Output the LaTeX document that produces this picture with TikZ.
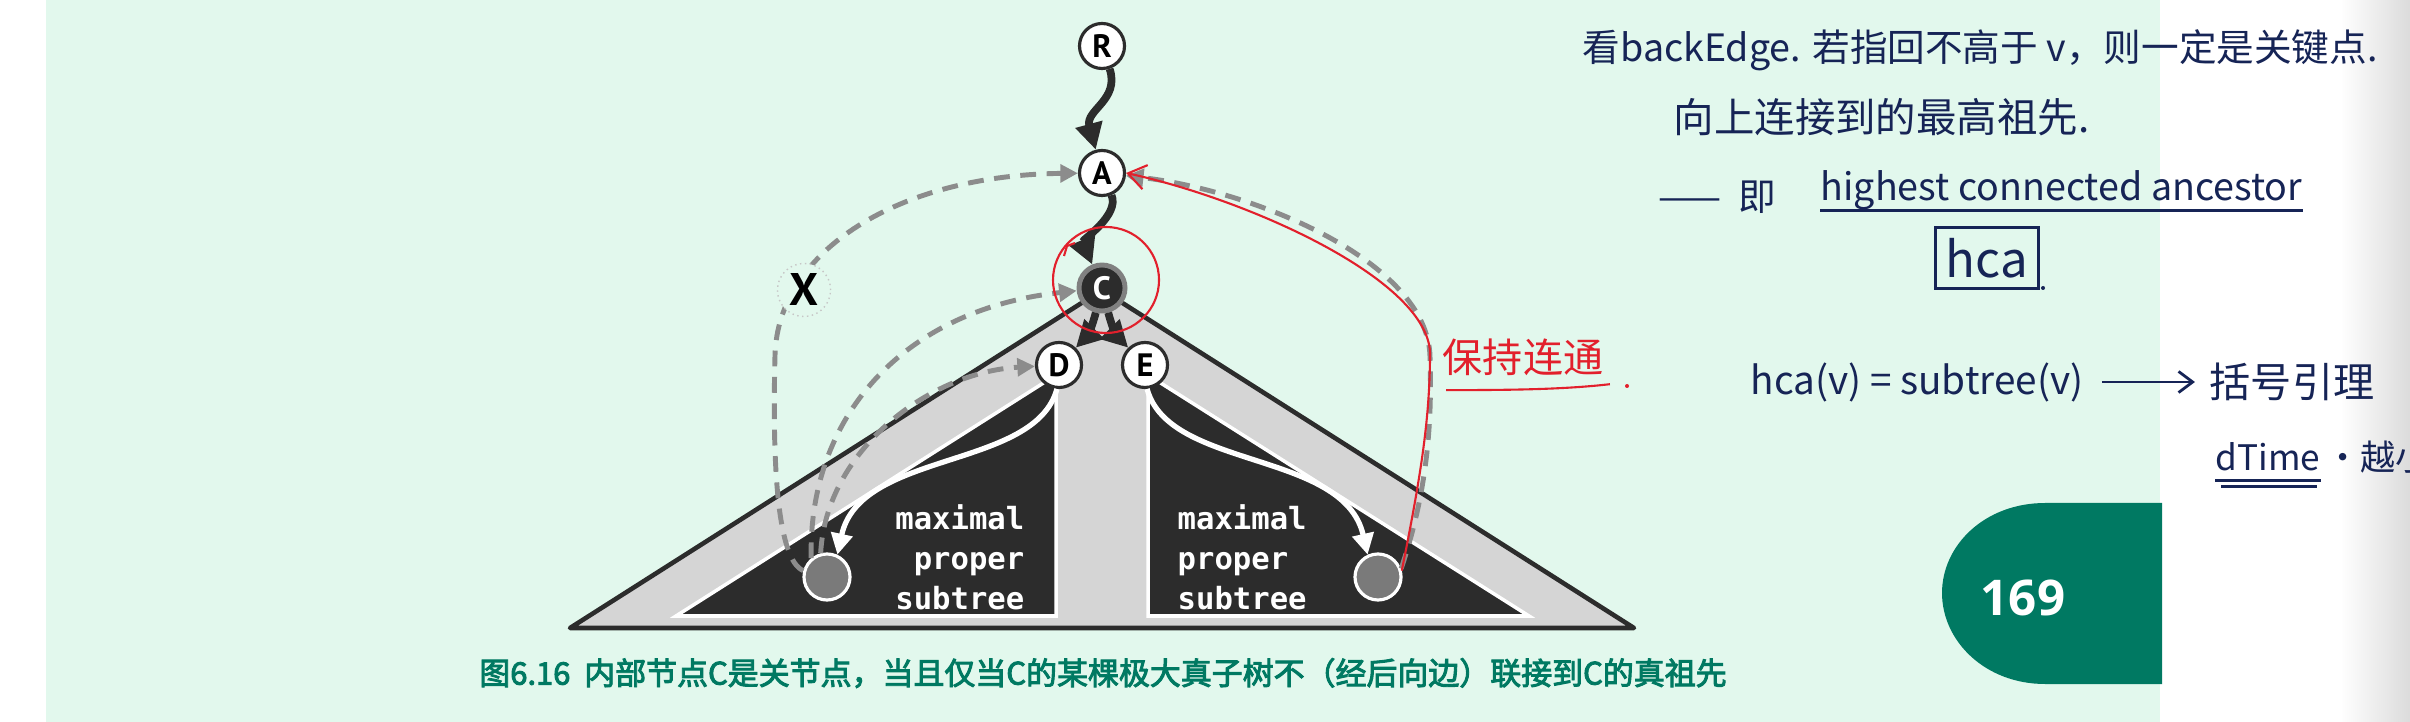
\documentclass[tikz,border=0pt]{standalone}
\usepackage{fontspec}
\usepackage{tikz}
\usetikzlibrary{arrows.meta}
\usetikzlibrary{calc}
\usetikzlibrary{positioning}

\newfontfamily\cjkfont{Noto Sans CJK SC}
\newfontfamily\capfont{Noto Sans CJK SC}[FakeBold=3]
\newfontfamily\letterfont{PT Sans}
\newfontfamily\codefont{DejaVu Sans Mono}
\newfontfamily\numfont{Open Sans}

\definecolor{pagebg}{RGB}{226,248,237}
\definecolor{tabgreen}{RGB}{0,121,98}
\definecolor{inkblue}{RGB}{22,36,86}
\definecolor{inkred}{RGB}{226,32,44}
\definecolor{treedark}{RGB}{44,44,44}
\definecolor{treelight}{RGB}{213,213,213}
\definecolor{leafgray}{RGB}{122,122,122}
\definecolor{dashgray}{RGB}{140,140,140}

\begin{document}
\begin{tikzpicture}[x=0.01cm,y=-0.01cm,
  treenode/.style={circle,draw=treedark,line width=0.9pt,fill=white,minimum size=0.45cm,inner sep=0pt,font=\letterfont\bfseries\fontsize{9.2}{9}\selectfont},
  cutnode/.style={circle,draw=gray,line width=1.4pt,fill=treedark,text=white,minimum size=0.46cm,inner sep=0pt,font=\letterfont\bfseries\fontsize{9.2}{9}\selectfont},
  leaf/.style={circle,draw=white,line width=0.9pt,fill=leafgray,minimum size=0.46cm,inner sep=0pt},
  treeedge/.style={draw=treedark,line width=2.2pt,-{Triangle[length=7.5pt,width=7.5pt]}},
  whiteedge/.style={draw=white,line width=1.5pt,-{Triangle[length=6pt,width=6pt]}},
  backedge/.style={draw=dashgray,line width=1.4pt,dash pattern=on 4.5pt off 3pt,-{Triangle[length=5pt,width=5pt]}},
  redpen/.style={draw=inkred,line width=0.6pt},
  inkpen/.style={draw=inkblue,line width=0.8pt},
  note/.style={text=inkblue,font=\cjkfont\fontsize{10.7}{12}\selectfont,inner sep=0pt},
  subtree/.style={text=white,font=\codefont\bfseries\fontsize{8.7}{11.4}\selectfont,inner sep=0pt}]

\useasboundingbox (0,0) rectangle (2410,722);
\fill[white] (0,0) rectangle (2410,722);
\fill[pagebg] (46,0) rectangle (2160,722);
\shade[left color=white,right color=black!14] (2340,0) rectangle (2410,722);

\filldraw[fill=treelight,draw=treedark,line width=1.3pt,line join=round] (1102,290) -- (570,628) -- (1634,628) -- cycle;
\filldraw[fill=treedark,draw=white,line width=1pt] (1056,375) -- (676,616) -- (1056,616) -- cycle;
\filldraw[fill=treedark,draw=white,line width=1pt] (1148,375) -- (1529,616) -- (1148,616) -- cycle;

\node[treenode] (R) at (1102,46) {R};
\node[treenode] (A) at (1102,173) {A};
\node[cutnode] (C) at (1102,288) {C};
\node[treenode] (D) at (1059,365) {D};
\node[treenode] (E) at (1145,365) {E};
\node[leaf] (leafL) at (827,577) {};
\node[leaf] (leafR) at (1378,577) {};

\node[subtree,align=right,anchor=east] (textL) at (1025,557) {maximal\\proper\\subtree};
\node[subtree,align=left,anchor=west] (textR) at (1177,557) {maximal\\proper\\subtree};

\draw[whiteedge] (D.265) .. controls (1035,470) and (860,450) .. (leafL.65);
\draw[whiteedge] (E.275) .. controls (1169,470) and (1344,450) .. (leafR.115);

\draw[treeedge] (R) .. controls (1120,100) and (1085,110) .. (A);
\draw[treeedge] (A) .. controls (1120,215) and (1082,240) .. (C);
\draw[treeedge] (C) to[bend left=15] (D);
\draw[treeedge] (C) to[bend right=15] (E);

\coordinate (bendL) at (775,355);
\coordinate (bendR) at (1430,357);
\draw[backedge] (leafL.165) .. controls (778,560) and (772,470) .. (bendL) .. controls (778,250) and (900,175) .. (A);
\draw[backedge] (leafL.130) .. controls (808,420) and (900,310) .. (C);
\draw[backedge] (leafL.105) .. controls (826,450) and (930,372) .. (D);
\draw[backedge] (leafR.20) .. controls (1428,490) and (1432,420) .. (bendR) .. controls (1428,260) and (1250,190) .. (A);

\node[circle,fill=pagebg,draw=gray!45,densely dotted,inner sep=1pt,font=\letterfont\bfseries\fontsize{13}{13}\selectfont] (X) at (804,290) {X};

\draw[redpen] (1106,280) circle[radius=53];
\draw[redpen] (1064,256) -- (1067,246) -- (1075,243);
\draw[redpen,-{Straight Barb[length=5pt,width=7pt]}] (leafR.15) .. controls (1420,480) and (1430,420) .. (1430,353) .. controls (1428,280) and (1250,200) .. (A.east);
\node[text=inkred,font=\cjkfont\fontsize{11.4}{12}\selectfont,inner sep=0pt] (keep) at (1523,357) {保持连通};
\draw[redpen] ($(keep.south west)+(4,14)$) .. controls (1500,390) and (1560,390) .. ($(keep.south east)+(6,8)$);
\fill[inkred] (1627,386) circle[radius=2];

\node[note,anchor=west] (note1) at (1582,50) {看backEdge. 若指回不高于 v，则一定是关键点.};
\node[note,anchor=west,font=\cjkfont\fontsize{11.5}{12}\selectfont] (note2) at (1673,117) {向上连接到的最高祖先.};
\node[note,anchor=west] (note3) at (1658,197) {——\ \ 即};
\node[note,anchor=west] (hcaname) at (1820,190) {highest connected ancestor};
\draw[inkpen] ($(hcaname.base west)+(0,10)$) -- ($(hcaname.base east)+(0,10)$);
\node[note,draw=inkblue,line width=0.9pt,inner sep=3pt,font=\cjkfont\fontsize{14}{14}\selectfont] (hcabox) at (1987,258) {hca};
\fill[inkblue] (2043,288) circle[radius=2];

\node[note,anchor=west,font=\cjkfont\fontsize{11}{12}\selectfont] (hcaeq) at (1750,382) {hca(v) = subtree(v)};
\node[note,anchor=west,font=\cjkfont\fontsize{11.7}{12}\selectfont] (lemma) at (2209,382) {括号引理};
\draw[inkpen,shorten <=5pt,shorten >=4pt,-{Straight Barb[length=4pt,width=6pt]}] (hcaeq.east) -- (lemma.west);

\node[note,anchor=west,font=\cjkfont\fontsize{10}{12}\selectfont] (dtime) at (2215,457) {dTime};
\node[note,right=1pt of dtime,font=\cjkfont\fontsize{10}{12}\selectfont] (dtimemore) {·越小};
\draw[inkpen] ($(dtime.base west)+(0,10)$) -- ($(dtime.base east)+(0,10)$);
\draw[inkpen] ($(dtime.base west)+(6,16)$) -- ($(dtime.base east)+(-4,16)$);

\node[text=tabgreen,font=\capfont\fontsize{8.8}{10}\selectfont] (caption) at (1103,673) {图6.16\ \ 内部节点C是关节点，当且仅当C的某棵极大真子树不（经后向边）联接到C的真祖先};

\fill[tabgreen] (2162,503) -- (2045,503) .. controls (1985,503) and (1942,545) .. (1942,593) .. controls (1942,641) and (1985,684) .. (2045,684) -- (2162,684) -- cycle;
\node[text=white,font=\numfont\bfseries\fontsize{14}{14}\selectfont] (pagenum) at (2023,598) {169};
\end{tikzpicture}
\end{document}
